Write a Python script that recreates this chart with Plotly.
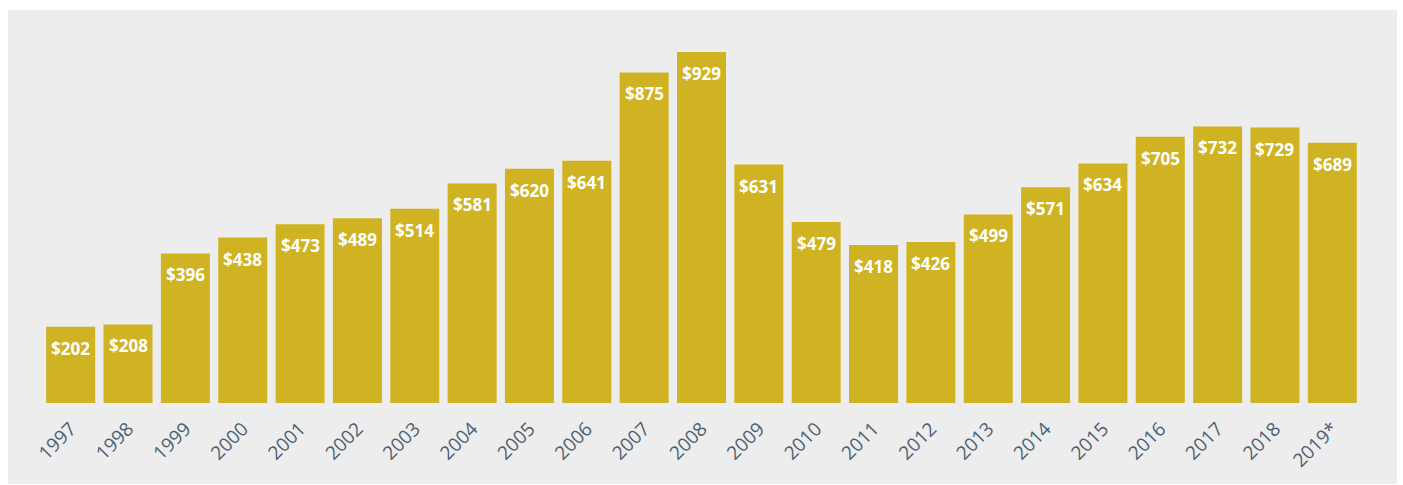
import plotly.graph_objects as go

years = ["1997", "1998", "1999", "2000", "2001", "2002", "2003", "2004", "2005", "2006",
         "2007", "2008", "2009", "2010", "2011", "2012", "2013", "2014", "2015", "2016",
         "2017", "2018", "2019*"]
values = [202, 208, 396, 438, 473, 489, 514, 581, 620, 641,
          875, 929, 631, 479, 418, 426, 499, 571, 634, 705,
          732, 729, 689]
labels = ["$" + str(v) for v in values]

BAR = "#cfb322"
BG = "#ecedec"
TICK = "#4b6074"

fig = go.Figure()
fig.add_trace(go.Bar(x=list(range(len(years))), y=values,
                     marker=dict(color=BAR, line=dict(width=0)),
                     width=0.854, hoverinfo="skip"))

for i, (v, t) in enumerate(zip(values, labels)):
    fig.add_annotation(x=i, y=v, text="<b>" + t + "</b>", showarrow=False,
                       yanchor="top", yshift=-8,
                       font=dict(family="Open Sans", size=17, color="white"))

L, R, T, B = 42, 42, 52, 82
W, H = 1403, 485
pw, ph = W - L - R, H - T - B
fig.add_shape(type="rect", xref="paper", yref="paper", layer="below",
              x0=(8 - L) / pw, x1=(1397 - L) / pw,
              y0=(H - B - 484) / ph, y1=(H - B - 10) / ph,
              fillcolor=BG, line=dict(width=0))

fig.update_layout(
    width=W, height=H,
    margin=dict(l=L, r=R, t=T, b=B),
    paper_bgcolor="white", plot_bgcolor="rgba(0,0,0,0)",
    showlegend=False,
    xaxis=dict(tickmode="array", tickvals=list(range(len(years))), ticktext=years,
               tickangle=-45, tickfont=dict(family="Open Sans", size=19, color=TICK),
               ticklabelstandoff=10,
               showgrid=False, zeroline=False, showline=False, ticks="",
               range=[-0.5, 22.5]),
    yaxis=dict(range=[0, 929], visible=False, showgrid=False, zeroline=False),
)

fig.write_html("out.html")
